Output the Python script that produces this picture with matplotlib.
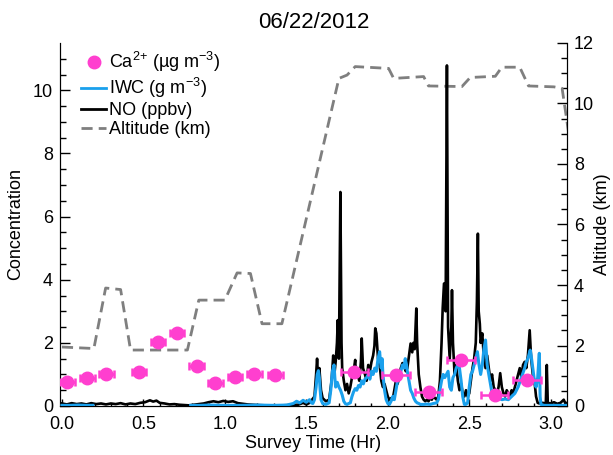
import numpy as np
import matplotlib
matplotlib.use("Agg")
import matplotlib.pyplot as plt
from matplotlib.lines import Line2D

plt.rcParams['font.family'] = ['Liberation Sans', 'DejaVu Sans']
plt.rcParams['mathtext.fontset'] = 'custom'
plt.rcParams['mathtext.rm'] = 'Liberation Sans'
plt.rcParams['mathtext.it'] = 'Liberation Sans'

# ---------------- data ----------------
title = "06/22/2012"

# Ca2+ (ug m-3) with horizontal error bars (hr)
ca_t = [0.033, 0.156, 0.272, 0.473, 0.59, 0.707, 0.826, 0.942, 1.063, 1.18, 1.31,
        1.795, 2.05, 2.25, 2.45, 2.655, 2.855]
ca_v = [0.77, 0.88, 1.0, 1.08, 2.03, 2.30, 1.28, 0.72, 0.92, 1.0, 0.97,
        1.09, 0.98, 0.45, 1.46, 0.34, 0.82]
ca_err = [0.045, 0.045, 0.045, 0.045, 0.045, 0.045, 0.045, 0.045, 0.045, 0.045, 0.045,
          0.085, 0.085, 0.085, 0.085, 0.085, 0.085]

# Altitude (km)
alt_t = [0.0, 0.196, 0.268, 0.36, 0.421, 0.77, 0.84, 1.0, 1.075, 1.157, 1.228, 1.35,
         1.70, 1.75, 1.80, 2.005, 2.036, 2.22, 2.25, 2.455, 2.506, 2.66, 2.70, 2.81,
         2.864, 3.02, 3.07, 3.13]
alt_v = [1.95, 1.9, 3.9, 3.85, 1.85, 1.85, 3.5, 3.5, 4.4, 4.38, 2.72, 2.72,
         10.83, 10.94, 11.22, 11.16, 10.83, 10.89, 10.58, 10.56, 10.86, 10.9, 11.2, 11.2,
         10.58, 10.55, 10.5, 8.3]

# NO (ppbv)
no_t = [0.00, 0.03, 0.06, 0.09, 0.12, 0.15, 0.18, 0.21, 0.24, 0.27, 0.30, 0.33, 0.36,
        0.39, 0.42, 0.45, 0.48, 0.51, 0.54, 0.56, 0.58, 0.60, 0.63, 0.66, 0.69, 0.72,
        0.75, 0.78, 0.81, 0.84, 0.87, 0.90, 0.93, 0.96, 0.99, 1.02, 1.05, 1.08, 1.11,
        1.14, 1.17, 1.20, 1.25, 1.30, 1.35, 1.40, 1.45, 1.48, 1.50, 1.52, 1.55, 1.560,
        1.566, 1.572, 1.58, 1.59, 1.60, 1.62, 1.64, 1.655, 1.665, 1.672, 1.68, 1.688,
        1.693, 1.70, 1.709, 1.716, 1.72, 1.73, 1.74, 1.75, 1.76, 1.77, 1.78, 1.79, 1.80,
        1.805, 1.815, 1.825, 1.835, 1.84, 1.848, 1.86, 1.87, 1.88, 1.89, 1.90, 1.91,
        1.918, 1.923, 1.93, 1.94, 1.95, 1.96, 1.97, 1.98, 1.99, 2.00, 2.01, 2.02, 2.03,
        2.04, 2.05, 2.06, 2.07, 2.08, 2.09, 2.10, 2.11, 2.12, 2.13, 2.14, 2.15, 2.157,
        2.165, 2.175, 2.18, 2.19, 2.20, 2.21, 2.22, 2.23, 2.24, 2.25, 2.26, 2.27, 2.28,
        2.29, 2.30, 2.31, 2.32, 2.33, 2.337, 2.345, 2.355, 2.363, 2.37, 2.38, 2.39, 2.394,
        2.40, 2.41, 2.42, 2.43, 2.44, 2.45, 2.46, 2.47, 2.48, 2.49, 2.50, 2.51, 2.52,
        2.53, 2.54, 2.547, 2.553, 2.558, 2.565, 2.57, 2.58, 2.59, 2.60, 2.61, 2.62, 2.63,
        2.64, 2.65, 2.66, 2.67, 2.68, 2.69, 2.70, 2.71, 2.72, 2.73, 2.74, 2.75, 2.76,
        2.77, 2.78, 2.79, 2.80, 2.81, 2.82, 2.83, 2.84, 2.85, 2.86, 2.871, 2.88, 2.89,
        2.90, 2.91, 2.92, 2.93, 2.95, 2.97, 2.976, 2.982, 3.00, 3.02, 3.04, 3.06, 3.08,
        3.09, 3.10]
no_v = [0.08, 0.05, 0.09, 0.06, 0.08, 0.05, 0.09, 0.06, 0.08, 0.05, 0.08, 0.06, 0.09,
        0.05, 0.08, 0.06, 0.10, 0.12, 0.18, 0.14, 0.17, 0.10, 0.08, 0.05, 0.06, 0.04,
        0.03, 0.02, 0.04, 0.06, 0.08, 0.12, 0.15, 0.12, 0.16, 0.13, 0.15, 0.09, 0.07,
        0.05, 0.04, 0.03, 0.02, 0.02, 0.02, 0.03, 0.04, 0.10, 0.05, 0.10, 0.3, 1.0,
        1.5, 0.9, 1.2, 0.5, 0.25, 0.15, 0.2, 0.8, 1.6, 1.0, 1.4, 2.0,
        2.72, 1.5, 6.78, 2.0, 1.2, 0.8, 0.5, 0.7, 0.4, 0.6, 0.9, 1.1, 1.46,
        0.9, 1.0, 0.8, 1.4, 2.14, 1.2, 1.0, 0.8, 1.3, 1.1, 1.4, 1.6,
        1.9, 2.46, 2.3, 1.5, 1.3, 0.8, 0.6, 0.7, 0.5, 0.3, 0.2, 0.25, 0.2,
        0.5, 0.8, 0.7, 0.9, 1.2, 1.36, 1.3, 1.1, 1.2, 1.6, 1.98, 1.7, 2.0,
        1.8, 3.09, 2.0, 1.0, 0.6, 0.3, 0.2, 0.15, 0.2, 0.15, 0.25, 0.2, 0.3,
        0.25, 0.2, 0.3, 0.8, 2.0, 3.1, 3.88, 3.0, 10.79, 2.5, 1.5, 2.5, 3.67,
        2.0, 1.0, 1.3, 0.8, 0.5, 0.7, 0.4, 0.3, 0.5, 0.3, 0.4, 0.8, 1.2,
        1.5, 2.0, 3.3, 5.46, 3.0, 2.6, 2.0, 2.3, 1.5, 1.2, 1.6, 1.2, 0.8,
        1.0, 0.6, 0.5, 0.4, 0.6, 1.04, 0.6, 0.4, 0.3, 0.5, 0.4, 0.3, 0.5,
        0.4, 0.6, 0.8, 1.0, 1.2, 0.9, 1.3, 1.4, 1.2, 1.6, 2.4, 1.5, 1.0,
        0.8, 0.3, 0.1, 0.08, 0.1, 0.08, 1.3, 0.1, 0.08, 0.12, 0.07, 0.1, 0.2,
        0.08, 0.1]

# IWC (g m-3); NaN = no data
iwc_t = [0.00, 0.05, 0.10, 0.15, 0.19, 0.20, 0.79, 0.85, 0.90, 1.00, 1.10, 1.20, 1.30,
         1.38, 1.42, 1.44, 1.46, 1.48, 1.50, 1.52, 1.53, 1.54, 1.55, 1.56, 1.567, 1.574,
         1.58, 1.585, 1.59, 1.60, 1.62, 1.64, 1.65, 1.66, 1.67, 1.675, 1.68, 1.69, 1.70,
         1.71, 1.72, 1.73, 1.74, 1.75, 1.76, 1.77, 1.78, 1.79, 1.80, 1.81, 1.82, 1.83,
         1.84, 1.85, 1.86, 1.87, 1.88, 1.89, 1.90, 1.91, 1.92, 1.93, 1.94, 1.95, 1.955,
         1.96, 1.965, 1.97, 1.98, 1.99, 2.00, 2.01, 2.02, 2.03, 2.04, 2.05, 2.06, 2.07,
         2.08, 2.09, 2.10, 2.107, 2.115, 2.12, 2.13, 2.14, 2.15, 2.16, 2.17, 2.18, 2.19,
         2.20, 2.22, 2.24, 2.26, 2.28, 2.30, 2.31, 2.32, 2.33, 2.34, 2.35, 2.36, 2.37,
         2.38, 2.39, 2.40, 2.41, 2.42, 2.43, 2.434, 2.44, 2.45, 2.46, 2.47, 2.48, 2.49,
         2.50, 2.51, 2.52, 2.53, 2.54, 2.55, 2.56, 2.57, 2.58, 2.59, 2.60, 2.61, 2.62,
         2.63, 2.64, 2.65, 2.66, 2.67, 2.68, 2.70, 2.72, 2.74, 2.76, 2.78, 2.80, 2.82,
         2.84, 2.85, 2.86, 2.874, 2.88, 2.89, 2.90, 2.91, 2.92, 2.93, 2.935, 2.94, 2.96,
         3.00, 3.05, 3.10]
iwc_v = [0.02, 0.02, 0.03, 0.02, 0.02, np.nan, 0.02, 0.02, 0.03, 0.02, 0.02, 0.03, 0.02,
         0.03, 0.08, 0.15, 0.10, 0.18, 0.12, 0.20, 0.10, 0.08, 0.20, 0.60, 1.0, 1.12,
         0.9, 0.5, 0.2, 0.08, 0.05, 0.10, 0.5, 1.1, 1.3, 0.9, 0.6, 0.75, 0.6,
         0.5, 0.35, 0.15, 0.07, 0.05, 0.08, 0.10, 0.30, 0.45, 0.55, 0.5, 0.65, 0.6,
         0.8, 0.7, 0.85, 0.9, 1.0, 0.85, 1.1, 1.0, 1.2, 1.1, 1.5, 1.72, 1.4,
         1.2, 1.5, 1.0, 0.5, 0.2, 0.08, 0.05, 0.15, 0.3, 0.2, 0.5, 0.8, 0.9,
         1.1, 1.3, 1.2, 1.5, 1.3, 1.1, 0.8, 0.5, 0.4, 0.25, 0.15, 0.1, 0.08,
         0.05, 0.05, 0.06, 0.05, 0.08, 0.10, 0.2, 0.5, 0.8, 1.0, 0.9, 1.0, 1.1,
         0.6, 0.5, 0.9, 1.0, 1.2, 1.3, 1.35, 1.2, 0.8, 0.3, 0.05, 0.05, 0.1,
         0.6, 1.0, 1.1, 1.3, 1.5, 1.72, 1.3, 1.0, 1.3, 1.8, 2.09, 1.3, 1.0,
         0.7, 0.4, 0.25, 0.3, 0.2, 0.25, 0.2, 0.22, 0.2, 0.3, 0.4, 0.6, 0.9,
         1.2, 1.4, 1.5, 1.77, 1.6, 1.2, 0.8, 0.6, 0.9, 1.67, 0.3, 0.05, 0.02,
         0.02, 0.02, 0.02]

# ---------------- colors ----------------
c_ca = '#FF3FCF'
c_iwc = '#1AA0EC'
c_no = '#000000'
c_alt = '#7F7F7F'

# ---------------- figure ----------------
fig = plt.figure(figsize=(6.13, 4.55), dpi=100)
ax = fig.add_axes([60 / 613, 49 / 455, 507 / 613, 363 / 455])
ax2 = ax.twinx()
ax.set_zorder(ax2.get_zorder() + 1)
ax.patch.set_visible(False)

ax2.plot(alt_t, alt_v, color=c_alt, lw=2.0, dashes=(4, 2.2))
ax.plot(no_t, no_v, color=c_no, lw=1.9, zorder=2)
ax.plot(iwc_t, iwc_v, color=c_iwc, lw=2.2, zorder=3)
ax.errorbar(ca_t, ca_v, xerr=ca_err, fmt='o', color=c_ca, ms=9, mec=c_ca,
            elinewidth=1.8, capsize=3, capthick=1.8, zorder=4)

ax.set_xlim(-0.012, 3.10)
ax.set_ylim(0, 11.5)
ax2.set_ylim(0, 12)

ax.set_xticks([0.0, 0.5, 1.0, 1.5, 2.0, 2.5, 3.0])
ax.set_xticklabels(['0.0', '0.5', '1.0', '1.5', '2.0', '2.5', '3.0'])
ax.set_xticks(np.arange(0, 3.1, 0.1), minor=True)
ax.set_yticks([0, 2, 4, 6, 8, 10])
ax.set_yticks(np.arange(0, 11.5, 0.5), minor=True)
ax2.set_yticks([0, 2, 4, 6, 8, 10, 12])
ax2.set_yticks(np.arange(0, 12.5, 0.5), minor=True)

for a in (ax, ax2):
    a.tick_params(which='major', direction='in', length=7, width=1, labelsize=13)
    a.tick_params(which='minor', direction='in', length=4, width=1)
    a.spines['top'].set_visible(False)
ax.tick_params(axis='x', which='major', length=5, pad=7)
ax.tick_params(axis='x', which='minor', length=2.5)
ax.tick_params(axis='y', right=False, pad=5)
ax2.tick_params(axis='y', left=False, pad=5)

ax.set_xlabel('Survey Time (Hr)', fontsize=13, labelpad=2)
ax.set_ylabel('Concentration', fontsize=13, labelpad=6)
ax2.set_ylabel('Altitude (km)', fontsize=13, labelpad=0)
ax.set_title(title, fontsize=16, pad=11)

handles = [
    Line2D([], [], marker='o', ls='none', color=c_ca, ms=9),
    Line2D([], [], color=c_iwc, lw=2),
    Line2D([], [], color=c_no, lw=2),
    Line2D([], [], color=c_alt, lw=2, dashes=(4, 2.2)),
]
labels = ['Ca$^{2{+}}$ (µg m$^{-3}$)', 'IWC (g m$^{-3}$)', 'NO (ppbv)', 'Altitude (km)']
ax.legend(handles, labels, loc='upper left', bbox_to_anchor=(0.02, 1.01),
          frameon=False, fontsize=13, handlelength=1.4, handletextpad=0.15,
          labelspacing=0.1, borderaxespad=0.2)

fig.savefig('out.png', dpi=100)
